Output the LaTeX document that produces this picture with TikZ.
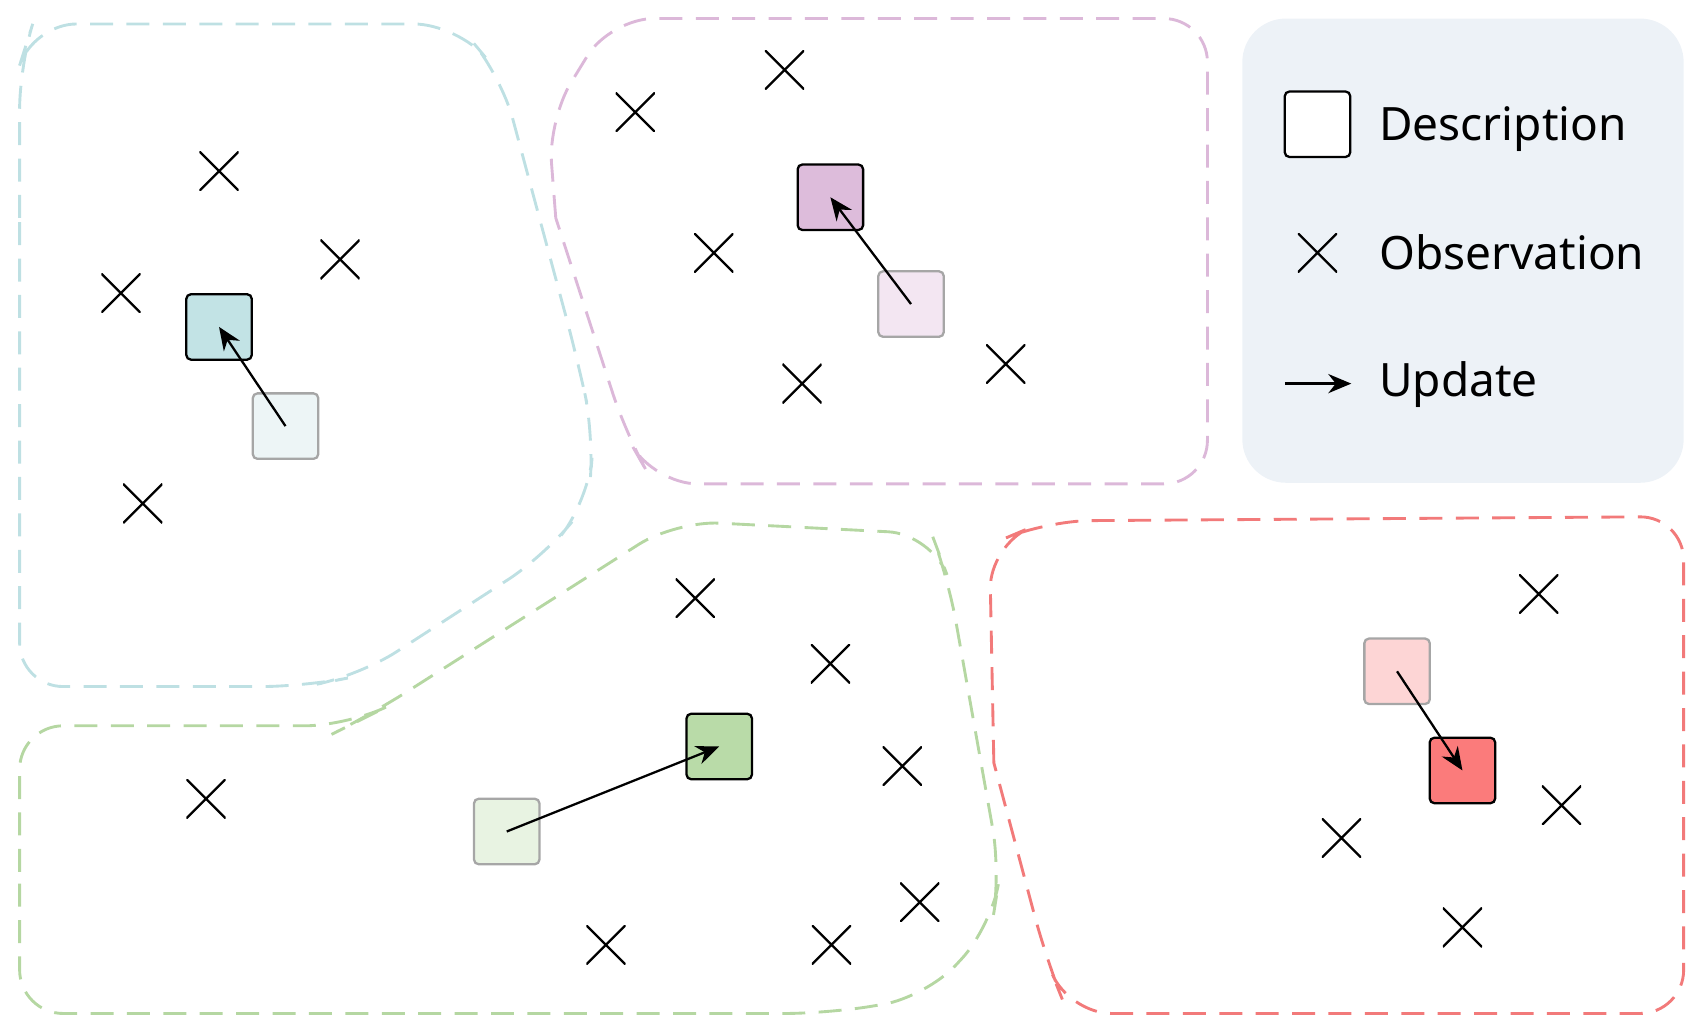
\documentclass[tikz,border=0pt]{standalone}
\usepackage{fontspec}
\setmainfont{Noto Sans}
\usetikzlibrary{arrows.meta}
\definecolor{tealD}{HTML}{C2E3E5}\definecolor{tealL}{HTML}{EDF5F6}\definecolor{tealR}{HTML}{BEE0E3}
\definecolor{purD}{HTML}{DDBCDB}\definecolor{purL}{HTML}{F3E6F2}\definecolor{purR}{HTML}{DCB8D9}
\definecolor{grnD}{HTML}{B9DBA8}\definecolor{grnL}{HTML}{E8F3E2}\definecolor{grnR}{HTML}{B5D7A2}
\definecolor{redD}{HTML}{FB7B7B}\definecolor{redL}{HTML}{FDD5D5}\definecolor{redR}{HTML}{F27A7A}
\definecolor{legbg}{HTML}{EDF2F7}
\tikzset{
 region/.style={line width=0.75pt, dash pattern=on 6pt off 3.5pt, rounded corners=0.4cm},
 desc/.style={draw=black, line width=0.6pt, rounded corners=1.2pt, minimum size=0.6cm, inner sep=0pt},
 descl/.style={draw=black!35, line width=0.6pt, rounded corners=1.2pt, minimum size=0.6cm, inner sep=0pt},
 obs/.style={inner sep=0pt, minimum size=0.36cm, path picture={\draw[line width=0.6pt] (path picture bounding box.south west)--(path picture bounding box.north east) (path picture bounding box.north west)--(path picture bounding box.south east);}},
 upd/.style={-{Stealth[length=6pt,width=5pt]}, line width=0.6pt},
 lab/.style={anchor=base west, font=\fontsize{12}{14}\selectfont, inner sep=0pt}
}
\begin{document}
\begin{tikzpicture}[x=0.01cm,y=-0.01cm]
\useasboundingbox (0,0) rectangle (1560,944);
% legend
\fill[legbg, rounded corners=0.4cm] (1140,17) rectangle (1545,443);
\node[desc, fill=white] (ld) at (1209,114) {};
\node[obs] (lo) at (1209,232) {};
\coordinate (la1) at (1179,352); \coordinate (la2) at (1240,352);
\draw[upd] (la1) -- (la2);
\node[lab] (t1) at (1265,129) {Description};
\node[lab] (t2) at (1265,247) {Observation};
\node[lab] (t3) at (1265,364) {Update};
% regions
\draw[region, tealR] (18,200) -- (18,60) -- (30,22) -- (420,22) -- (460,70) -- (530,330) -- (545,400) -- (540,460) -- (500,510) -- (330,620) -- (280,630) -- (18,630) -- (18,200);
\draw[region, purR] (510,200) -- (503,110) -- (560,17) -- (1108,17) -- (1108,444) -- (600,444) -- (575,400) -- (510,200);
\draw[region, grnR] (18,800) -- (18,666) -- (320,666) -- (340,656) -- (620,478) -- (855,490) -- (870,530) -- (918,800) -- (910,850) -- (850,915) -- (760,930) -- (18,930) -- (18,800);
\draw[region, redR] (912,700) -- (908,500) -- (960,478) -- (1545,474) -- (1545,930) -- (980,930) -- (960,880) -- (912,700);
% descriptions
\node[descl, fill=tealL] (tl) at (262,391) {}; \node[desc, fill=tealD] (td) at (201,300) {};
\node[descl, fill=purL] (pl) at (836,279) {}; \node[desc, fill=purD] (pd) at (762,181) {};
\node[descl, fill=grnL] (gl) at (465,763) {}; \node[desc, fill=grnD] (gd) at (660,685) {};
\node[descl, fill=redL] (rl) at (1282,616) {}; \node[desc, fill=redD] (rd) at (1342,707) {};
\draw[upd] (tl.center) -- (td.center);
\draw[upd] (pl.center) -- (pd.center);
\draw[upd] (gl.center) -- (gd.center);
\draw[upd] (rl.center) -- (rd.center);
% observations
\foreach \p [count=\i] in {(201,157),(312,238),(111,269),(131,462),(583,103),(720,64),(655,232),(736,352),(923,334),(638,549),(762,609),(828,703),(189,733),(844,828),(556,867),(763,867),(1412,545),(1433,739),(1231,769),(1342,851)}
  \node[obs] (o\i) at \p {};
\end{tikzpicture}
\end{document}
